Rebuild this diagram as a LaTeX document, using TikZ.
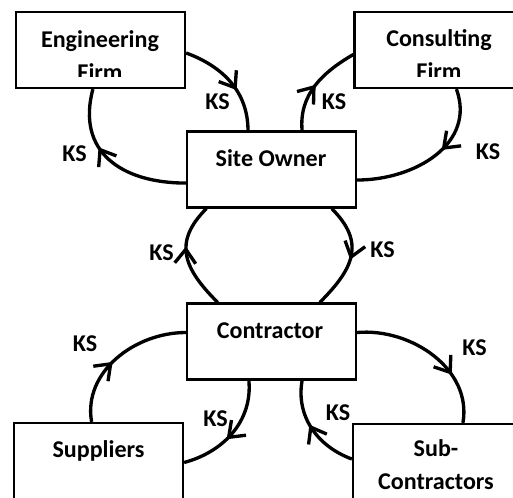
\documentclass[tikz,border=0pt]{standalone}
\usepackage{fontspec}
\setmainfont{Carlito}
\usetikzlibrary{arrows.meta,decorations.markings}

\tikzset{
  party/.style={draw, line width=1.3pt, minimum width=3.38cm, minimum height=1.52cm, inner sep=0pt},
  tag/.style={font=\fontsize{13.7}{18.7}\selectfont\bfseries, align=center, anchor=base, inner sep=0pt},
  ks/.style={font=\fontsize{13.7}{16}\selectfont\bfseries, inner sep=0pt},
  flow/.style={line width=1.9pt, postaction={decorate},
    decoration={markings, mark=at position #1 with {\arrow{Straight Barb[length=0.28cm,width=0.42cm]}}}},
  flow/.default=0.5
}

\begin{document}
\begin{tikzpicture}[x=0.02cm, y=0.02cm]
\useasboundingbox (0,0) rectangle (513,-497);

% boxes
\node[party] (eng) at (100.5,-50) {};
\node[party] (cons) at (439,-50) {};
\node[party] (site) at (271.5,-169.5) {};
\node[party] (contr) at (271.5,-341.5) {};
\node[party] (supp) at (98.5,-461) {};
\node[party] (sub) at (437.5,-462) {};

% box texts (base = last line)
\begin{scope}
\clip (0,0) rectangle (513,-76) (0,-100) rectangle (513,-490);
\node[tag] (engtxt) at (100,-80) {Engineering\\Firm};
\node[tag] (constxt) at (439,-79) {Consulting\\Firm};
\node[tag] (sitetxt) at (271,-166) {Site Owner};
\node[tag] (contrtxt) at (270,-338) {Contractor};
\node[tag] (supptxt) at (98.5,-457) {Suppliers};
\node[tag] (subtxt) at (436,-489) {Sub-\\Contractors};
\end{scope}

% knowledge sharing loops
\draw[flow=0.6] (eng.-2) to[out=-20,in=90] (site.121);
\draw[flow=0.62] (site.189) to[out=180,in=-105,looseness=1.25] (eng.259);
\draw[flow=0.5] (site.52) to[out=95,in=210] (cons.183);
\draw[flow=0.42] (cons.-66) to[out=-70,in=0,looseness=1.1] (site.-7);
\draw[flow=0.6] (contr.144) to[out=135,in=225,looseness=1.3] (site.211);
\draw[flow=0.52] (site.-33) to[out=-45,in=45,looseness=1.3] (contr.39);
\draw[flow=0.45] (supp.100) to[out=100,in=180] (contr.174);
\draw[flow=0.57] (contr.240) to[out=-85,in=15] (supp.-1);
\draw[flow=0.68] (contr.6) to[out=5,in=80] (sub.57);
\draw[flow=0.55] (sub.178) to[out=160,in=-100] (contr.-52);

% labels
\node[ks] (ks1) at (217.5,-101.5) {KS};
\node[ks] (ks2) at (74.5,-154) {KS};
\node[ks] (ks3) at (334,-101.5) {KS};
\node[ks] (ks4) at (488,-151.5) {KS};
\node[ks] (ks5) at (161.5,-252.5) {KS};
\node[ks] (ks6) at (382.5,-250) {KS};
\node[ks] (ks7) at (85,-344) {KS};
\node[ks] (ks8) at (215.5,-418.5) {KS};
\node[ks] (ks9) at (474.5,-347.5) {KS};
\node[ks] (ks10) at (338,-412.5) {KS};
\end{tikzpicture}
\end{document}
